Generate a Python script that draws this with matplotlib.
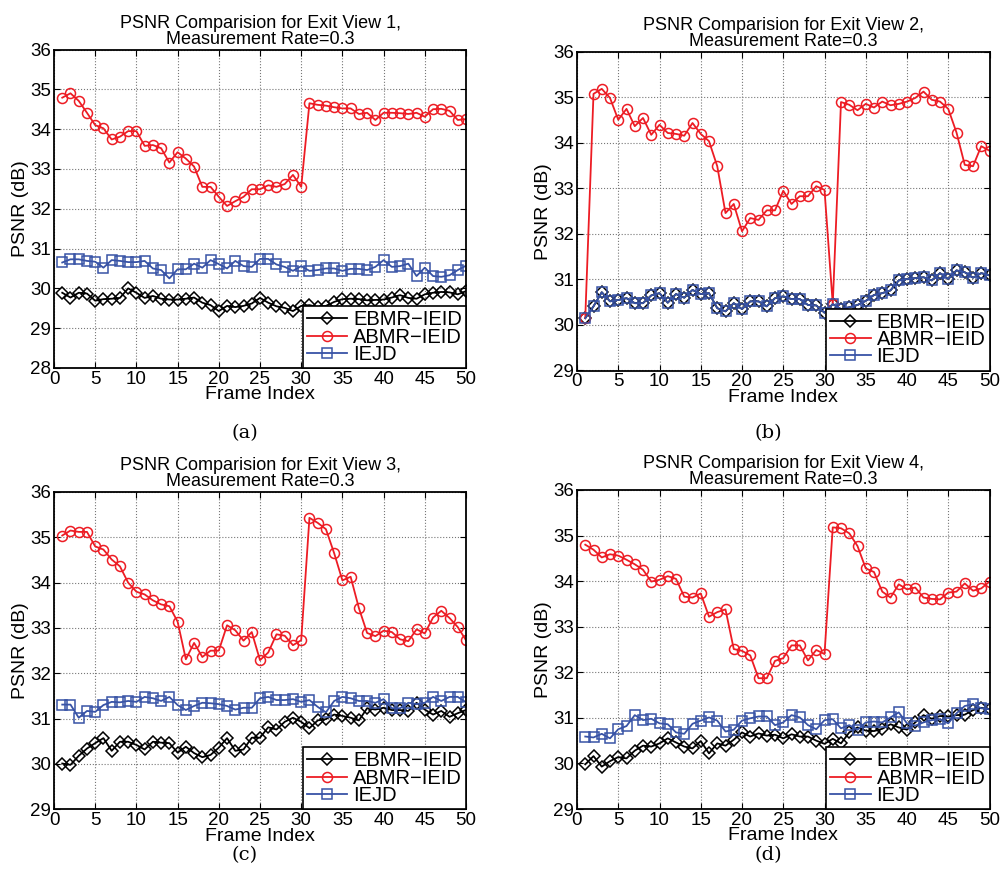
import numpy as np
import matplotlib
matplotlib.use('agg')
from matplotlib import pyplot as plt

plt.rcParams['font.family'] = ['Liberation Sans', 'DejaVu Sans']

frames = np.arange(1, 51)
labels = ['EBMR\u2212IEID', 'ABMR\u2212IEID', 'IEJD']

# view 1
ebmr_1 = [29.89, 29.77, 29.89, 29.87, 29.69, 29.73, 29.74, 29.76, 30.00, 29.89,
          29.76, 29.81, 29.74, 29.72, 29.72, 29.74, 29.77, 29.64, 29.58, 29.43,
          29.56, 29.53, 29.56, 29.62, 29.76, 29.64, 29.55, 29.51, 29.43, 29.56,
          29.58, 29.53, 29.56, 29.66, 29.73, 29.74, 29.73, 29.70, 29.71, 29.72,
          29.77, 29.83, 29.76, 29.74, 29.85, 29.89, 29.91, 29.90, 29.85, 29.93]
abmr_1 = [34.79, 34.90, 34.71, 34.41, 34.10, 34.02, 33.74, 33.81, 33.95, 33.95,
          33.58, 33.60, 33.52, 33.16, 33.42, 33.26, 33.06, 32.55, 32.55, 32.30,
          32.07, 32.19, 32.30, 32.49, 32.49, 32.59, 32.55, 32.62, 32.85, 32.55,
          34.65, 34.61, 34.59, 34.55, 34.52, 34.52, 34.38, 34.41, 34.23, 34.41,
          34.41, 34.40, 34.38, 34.41, 34.31, 34.50, 34.51, 34.46, 34.23, 34.25]
iejd_1 = [30.65, 30.73, 30.73, 30.69, 30.67, 30.52, 30.71, 30.69, 30.66, 30.66,
          30.69, 30.50, 30.46, 30.25, 30.48, 30.48, 30.62, 30.52, 30.71, 30.61,
          30.50, 30.69, 30.56, 30.54, 30.74, 30.74, 30.60, 30.54, 30.44, 30.56,
          30.44, 30.46, 30.50, 30.50, 30.44, 30.49, 30.49, 30.46, 30.54, 30.71,
          30.54, 30.56, 30.62, 30.31, 30.52, 30.31, 30.29, 30.33, 30.46, 30.57]

# view 2
ebmr_2 = [30.15, 30.41, 30.72, 30.52, 30.55, 30.59, 30.48, 30.48, 30.65, 30.70,
          30.49, 30.68, 30.60, 30.77, 30.68, 30.70, 30.37, 30.30, 30.48, 30.35,
          30.52, 30.52, 30.41, 30.59, 30.63, 30.57, 30.57, 30.44, 30.43, 30.27,
          30.46, 30.35, 30.39, 30.44, 30.53, 30.66, 30.70, 30.76, 30.98, 31.01,
          31.03, 31.05, 30.98, 31.14, 31.01, 31.20, 31.16, 31.04, 31.14, 31.09]
abmr_2 = [30.15, 35.08, 35.19, 34.99, 34.51, 34.75, 34.37, 34.55, 34.18, 34.40,
          34.22, 34.20, 34.16, 34.44, 34.20, 34.04, 33.49, 32.46, 32.66, 32.06,
          32.35, 32.31, 32.52, 32.52, 32.95, 32.66, 32.83, 32.83, 33.05, 32.97,
          30.46, 34.90, 34.84, 34.72, 34.86, 34.78, 34.91, 34.83, 34.86, 34.91,
          34.99, 35.13, 34.95, 34.91, 34.75, 34.23, 33.52, 33.49, 33.93, 33.83]
iejd_2 = [30.15, 30.41, 30.72, 30.52, 30.55, 30.59, 30.48, 30.48, 30.65, 30.70,
          30.49, 30.68, 30.60, 30.77, 30.68, 30.70, 30.37, 30.30, 30.48, 30.35,
          30.52, 30.52, 30.41, 30.59, 30.63, 30.57, 30.57, 30.44, 30.43, 30.27,
          30.46, 30.35, 30.39, 30.44, 30.53, 30.66, 30.70, 30.76, 30.98, 31.01,
          31.03, 31.05, 30.98, 31.14, 31.01, 31.20, 31.16, 31.04, 31.14, 31.09]

# view 3
ebmr_3 = [30.01, 29.98, 30.18, 30.34, 30.46, 30.57, 30.29, 30.49, 30.49, 30.42,
          30.32, 30.49, 30.47, 30.46, 30.25, 30.38, 30.24, 30.15, 30.20, 30.36,
          30.57, 30.29, 30.32, 30.58, 30.58, 30.81, 30.76, 30.93, 31.02, 30.93,
          30.79, 30.96, 30.99, 31.09, 31.06, 31.02, 30.96, 31.23, 31.20, 31.24,
          31.19, 31.19, 31.17, 31.35, 31.20, 31.09, 31.17, 31.04, 31.12, 31.19]
abmr_3 = [35.04, 35.15, 35.12, 35.12, 34.80, 34.73, 34.51, 34.36, 34.00, 33.80,
          33.74, 33.61, 33.52, 33.48, 33.14, 32.31, 32.67, 32.36, 32.50, 32.50,
          33.06, 32.95, 32.72, 32.91, 32.29, 32.46, 32.86, 32.83, 32.62, 32.73,
          35.43, 35.32, 35.18, 34.65, 34.05, 34.13, 33.44, 32.89, 32.82, 32.94,
          32.91, 32.75, 32.71, 32.97, 32.88, 33.23, 33.38, 33.22, 33.02, 32.73]
iejd_3 = [31.31, 31.31, 31.02, 31.17, 31.15, 31.30, 31.37, 31.36, 31.39, 31.37,
          31.48, 31.45, 31.39, 31.48, 31.30, 31.19, 31.28, 31.35, 31.34, 31.32,
          31.28, 31.20, 31.24, 31.24, 31.45, 31.48, 31.41, 31.41, 31.43, 31.37,
          31.41, 31.26, 31.14, 31.39, 31.48, 31.45, 31.39, 31.39, 31.35, 31.43,
          31.23, 31.23, 31.35, 31.32, 31.35, 31.48, 31.39, 31.48, 31.48, 31.36]

# view 4
ebmr_4 = [29.98, 30.16, 29.93, 30.05, 30.14, 30.11, 30.28, 30.39, 30.37, 30.44,
          30.55, 30.46, 30.37, 30.33, 30.49, 30.22, 30.44, 30.39, 30.52, 30.68,
          30.59, 30.66, 30.61, 30.63, 30.55, 30.64, 30.59, 30.59, 30.50, 30.43,
          30.54, 30.44, 30.68, 30.79, 30.72, 30.71, 30.76, 30.86, 30.79, 30.74,
          30.90, 31.06, 30.98, 31.04, 31.03, 31.06, 31.07, 31.17, 31.22, 31.19]
abmr_4 = [34.80, 34.69, 34.52, 34.59, 34.56, 34.47, 34.37, 34.25, 33.99, 34.03,
          34.11, 34.05, 33.66, 33.64, 33.73, 33.22, 33.32, 33.38, 32.51, 32.47,
          32.37, 31.87, 31.87, 32.25, 32.31, 32.59, 32.59, 32.26, 32.49, 32.40,
          35.18, 35.16, 35.05, 34.77, 34.28, 34.20, 33.77, 33.64, 33.93, 33.82,
          33.86, 33.64, 33.61, 33.60, 33.75, 33.77, 33.95, 33.79, 33.84, 33.99]
iejd_4 = [30.59, 30.57, 30.65, 30.55, 30.75, 30.82, 31.06, 30.95, 30.98, 30.88,
          30.86, 30.68, 30.65, 30.87, 30.94, 31.01, 30.94, 30.70, 30.74, 30.94,
          30.99, 31.03, 31.03, 30.84, 30.90, 31.06, 31.01, 30.84, 30.75, 30.95,
          30.97, 30.77, 30.84, 30.74, 30.90, 30.92, 30.90, 31.01, 31.12, 30.88,
          30.83, 30.90, 30.95, 30.97, 30.88, 31.10, 31.26, 31.30, 31.21, 31.19]

views = [
    (1, ebmr_1, abmr_1, iejd_1, 28, '(a)'),
    (2, ebmr_2, abmr_2, iejd_2, 29, '(b)'),
    (3, ebmr_3, abmr_3, iejd_3, 29, '(c)'),
    (4, ebmr_4, abmr_4, iejd_4, 29, '(d)'),
]

# axes boxes in pixels: left, top, right, bottom
boxes = [(54, 49.5, 466, 368), (577, 52, 989.5, 370.5),
         (54, 492, 466, 809.3), (577, 490, 989.5, 809)]
captions = [(245, 433), (768, 433), (245, 855), (768, 855)]

W, H = 1002, 890
fig = plt.figure(figsize=(W / 100, H / 100), dpi=100)

red = '#ed1c24'
blue = '#3853a6'

for (v, eb, ab, ie, ymin, cap), (l, t, r, b), (cx, cy) in zip(views, boxes, captions):
    ax = fig.add_axes([l / W, 1 - b / H, (r - l) / W, (b - t) / H])
    ax.plot(frames, eb, color='black', marker='D', markersize=5.8, mfc='none',
            mew=1.1, lw=1.3, label=labels[0])
    ax.plot(frames, ab, color=red, marker='o', markersize=7.2, mfc='none',
            mew=1.1, lw=1.3, label=labels[1])
    ax.plot(frames, ie, color=blue, marker='s', markersize=6.7, mfc='none',
            mew=1.1, lw=1.3, label=labels[2])
    ax.set_xlim(0, 50)
    ax.set_ylim(ymin, 36)
    ax.set_xticks(np.arange(0, 51, 5))
    ax.set_yticks(np.arange(ymin, 37, 1))
    ax.grid(True, linestyle=':', color='#777777', linewidth=0.8)
    ax.tick_params(direction='in', top=True, right=True, labelsize=13.5,
                   length=4, pad=2)
    for s in ax.spines.values():
        s.set_linewidth(1.3)
    ax.set_title('PSNR Comparision for Exit View %d,\nMeasurement Rate=0.3' % v,
                 fontsize=13, pad=4, linespacing=0.95)
    ax.set_xlabel('Frame Index', fontsize=14, labelpad=-1)
    ax.set_ylabel('PSNR (dB)', fontsize=14, labelpad=1)
    leg = ax.legend(loc='lower right', borderaxespad=0, fontsize=14.5,
                    fancybox=False, edgecolor='black', framealpha=1,
                    handlelength=2.0, handletextpad=0.3, labelspacing=-0.08,
                    borderpad=0.2, numpoints=1)
    leg.get_frame().set_linewidth(1.2)
    fig.text(cx / W, 1 - cy / H, cap, fontsize=14, family='DejaVu Serif',
             ha='center', va='center')

plt.savefig('out.png', dpi=100)
